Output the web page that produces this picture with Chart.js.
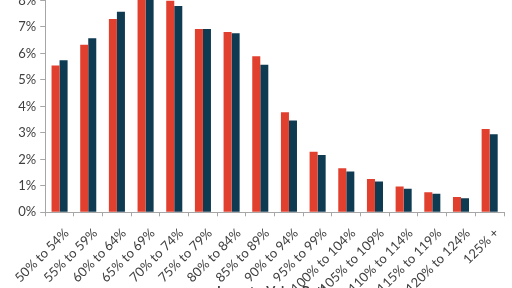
<!DOCTYPE html>
<html>
<head>
<meta charset="utf-8">
<script src="https://cdn.jsdelivr.net/npm/chart.js@4"></script>
<style>
  html, body { margin: 0; padding: 0; background: #fff; overflow: hidden; }
  #wrap { position: absolute; left: 0; top: -40px; width: 512px; height: 344px; }
</style>
</head>
<body>
<div id="wrap"><canvas id="myChart"></canvas></div>
<script>
// loan-to-value bands
var bands = ['50% to 54%', '55% to 59%', '60% to 64%', '65% to 69%', '70% to 74%', '75% to 79%',
  '80% to 84%', '85% to 89%', '90% to 94%', '95% to 99%', '100% to 104%', '105% to 109%',
  '110% to 114%', '115% to 119%', '120% to 124%', '125% +'];
// share of loans, %
var seriesRed = [5.54, 6.33, 7.30, 8.30, 7.99, 6.92, 6.81, 5.89, 3.78, 2.29, 1.66, 1.26, 0.97, 0.76, 0.58, 3.15];
var seriesBlue = [5.74, 6.57, 7.57, 8.45, 7.79, 6.92, 6.76, 5.57, 3.47, 2.16, 1.54, 1.16, 0.89, 0.70, 0.53, 2.95];
var yTicks = [0, 1, 2, 3, 4, 5, 6, 7, 8, 9];

var axisGray = '#a6a6a6';
var textGray = '#404040';

const data = {
	labels: bands,
	datasets: [{
		label: 'Red',
		data: seriesRed,
		backgroundColor: '#e2402f',
		categoryPercentage: 0.56,
		barPercentage: 1.0
	}, {
		label: 'Blue',
		data: seriesBlue,
		backgroundColor: '#0e3a52',
		categoryPercentage: 0.56,
		barPercentage: 1.0
	}]
};

const config = {
	type: 'bar',
	data: data,
	options: {
		responsive: true,
		maintainAspectRatio: false,
		animation: false,
		layout: { padding: { top: 14, right: 8, left: 0, bottom: 0 } },
		plugins: {
			legend: { display: false },
			tooltip: { enabled: false }
		},
		scales: {
			x: {
				grid: { display: true, drawOnChartArea: false, drawTicks: true, tickLength: 4, color: axisGray, offset: true },
				border: { display: true, color: axisGray, width: 1 },
				ticks: {
					color: textGray,
					font: { family: 'Lato', size: 13 },
					maxRotation: 45,
					minRotation: 45,
					padding: 9,
					labelOffset: 7,
					autoSkip: false
				},
				title: {
					display: true,
					text: 'Loan-to-Value Ratio',
					color: textGray,
					font: { family: 'Lato', size: 13, weight: 'bold' },
					padding: { top: 0, bottom: 4 }
				},
				afterFit: function(scale) { scale.height = 91.7; }
			},
			y: {
				min: 0,
				max: 9,
				afterBuildTicks: function(scale) {
					scale.ticks = yTicks.map(function(v) { return { value: v }; });
				},
				grid: { display: true, drawOnChartArea: false, drawTicks: true, tickLength: 5, color: axisGray },
				border: { display: true, color: axisGray, width: 1 },
				ticks: {
					color: textGray,
					font: { family: 'Lato', size: 13 },
					padding: 4,
					callback: function(v) { return v + '%'; }
				},
				afterFit: function(scale) { scale.width = 42; }
			}
		}
	}
};

const myChart = new Chart(document.getElementById('myChart'), config);
</script>
</body>
</html>
